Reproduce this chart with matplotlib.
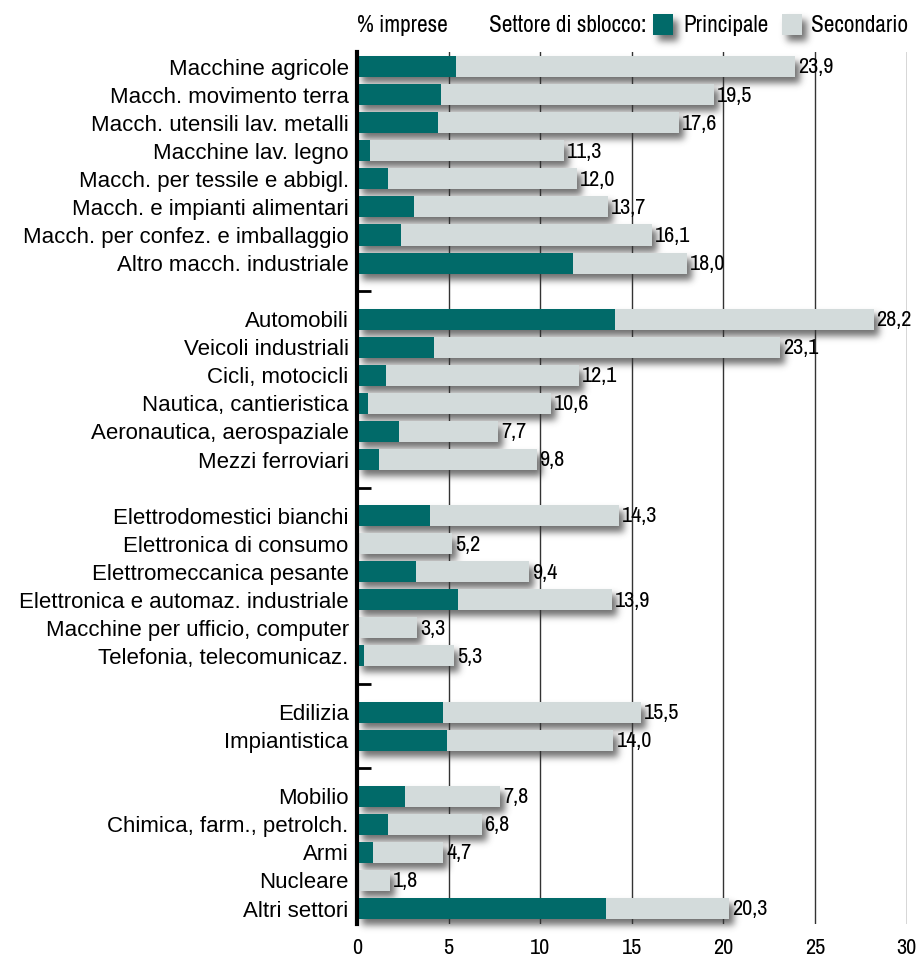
import numpy as np
import matplotlib.pyplot as plt
from matplotlib import font_manager as fm
from matplotlib.patches import Rectangle

# settori raggruppati, dall'alto verso il basso
g_macchine = ["Macchine agricole", "Macch. movimento terra", "Macch. utensili lav. metalli",
              "Macchine lav. legno", "Macch. per tessile e abbigl.", "Macch. e impianti alimentari",
              "Macch. per confez. e imballaggio", "Altro macch. industriale"]
p_macchine = [5.4, 4.6, 4.4, 0.7, 1.7, 3.1, 2.4, 11.8]
t_macchine = [23.9, 19.5, 17.6, 11.3, 12.0, 13.7, 16.1, 18.0]

g_trasporti = ["Automobili", "Veicoli industriali", "Cicli, motocicli", "Nautica, cantieristica",
               "Aeronautica, aerospaziale", "Mezzi ferroviari"]
p_trasporti = [14.1, 4.2, 1.6, 0.6, 2.3, 1.2]
t_trasporti = [28.2, 23.1, 12.1, 10.6, 7.7, 9.8]

g_elettro = ["Elettrodomestici bianchi", "Elettronica di consumo", "Elettromeccanica pesante",
             "Elettronica e automaz. industriale", "Macchine per ufficio, computer",
             "Telefonia, telecomunicaz."]
p_elettro = [4.0, 0.0, 3.2, 5.5, 0.0, 0.4]
t_elettro = [14.3, 5.2, 9.4, 13.9, 3.3, 5.3]

g_edil = ["Edilizia", "Impiantistica"]
p_edil = [4.7, 4.9]
t_edil = [15.5, 14.0]

g_altri = ["Mobilio", "Chimica, farm., petrolch.", "Armi", "Nucleare", "Altri settori"]
p_altri = [2.6, 1.7, 0.9, 0.0, 13.6]
t_altri = [7.8, 6.8, 4.7, 1.8, 20.3]

groups = [(g_macchine, p_macchine, t_macchine), (g_trasporti, p_trasporti, t_trasporti),
          (g_elettro, p_elettro, t_elettro), (g_edil, p_edil, t_edil),
          (g_altri, p_altri, t_altri)]

TEAL = "#016a69"
LIGHT = "#d3dbdb"
TXT = "Liberation Sans"

# pick a narrow face for numbers and legend if one is installed
narrow = None
for f in fm.fontManager.ttflist:
    if ("Narrow" in f.name or "Condensed" in f.name) and "Bold" not in f.style:
        narrow = f.name
        break
if narrow is None:
    NUM = dict(family=TXT)
    NSIZE, LSIZE = 13.5, 14
else:
    NUM = dict(family=narrow)
    NSIZE, LSIZE = 16, 16.7

labels, ypos, princ, tot, seps = [], [], [], [], []
k = 0
for gi, (names, p, t) in enumerate(groups):
    if gi > 0:
        seps.append(k)
        k += 1
    for n, a, b in zip(names, p, t):
        labels.append(n)
        ypos.append(k)
        princ.append(a)
        tot.append(b)
        k += 1
ypos = np.array(ypos)
princ = np.array(princ)
tot = np.array(tot)
sec = tot - princ

W, Hf = 917, 961
fig = plt.figure(figsize=(W / 100, Hf / 100), dpi=100)
ax = fig.add_axes([357 / W, 1 - 924 / Hf, 549.5 / W, (924 - 52) / Hf])
ax.patch.set_visible(False)

H = 0.75
pxx = 30 / 549.5      # data units per pixel, x

ax.barh(ypos, princ, height=H, color=TEAL, zorder=3)
ax.barh(ypos, sec, left=princ, height=H, color=LIGHT, zorder=3)

for y, w in zip(ypos, tot):
    ax.text(w + 3 * pxx, y + 0.03, f"{w:.1f}".replace(".", ","), va="center", ha="left",
            fontsize=NSIZE, color="black", zorder=4, **NUM)

for x in range(5, 31, 5):
    ax.axvline(x, color="#333333", lw=1, zorder=2)

for s in seps:
    ax.plot([0, 0.75], [s, s], color="black", lw=2, solid_capstyle="butt", zorder=4)

ax.set_xlim(0, 30)
ax.set_ylim(ypos.max() + 0.55, -0.52)
ax.set_yticks(ypos)
ax.set_yticklabels(labels, fontsize=16, family=TXT)
ax.set_xticks(range(0, 31, 5))
ax.set_xticklabels([str(v) for v in range(0, 31, 5)], fontsize=NSIZE, **NUM)
ax.tick_params(axis="both", length=0)
ax.tick_params(axis="y", pad=6)
ax.tick_params(axis="x", pad=10)
for side in ["top", "right", "bottom"]:
    ax.spines[side].set_visible(False)
ax.spines["left"].set_linewidth(3)
ax.spines["left"].set_zorder(5)

# intestazione e legenda
ty = 1 - 25 / Hf
fig.text(357 / W, ty, "% imprese", fontsize=LSIZE, va="center", ha="left", **NUM)
fig.text(489 / W, ty, "Settore di sblocco:", fontsize=LSIZE, va="center", ha="left", **NUM)
fig.text(683 / W, ty, "Principale", fontsize=LSIZE, va="center", ha="left", **NUM)
fig.text(811 / W, ty, "Secondario", fontsize=LSIZE, va="center", ha="left", **NUM)
keys = [(653, TEAL), (782, LIGHT)]
for x0, c in keys:
    fig.patches.append(Rectangle((x0 / W, 1 - 35 / Hf), 20 / W, 21 / Hf,
                                 transform=fig.transFigure, facecolor=c, edgecolor="none"))

# soft drop shadow: box mask in pixel space, blurred with a gaussian kernel
mask = np.zeros((Hf, W))
ox, oy = 5, 6


def stamp(x0, x1, ytop, ybot):
    mask[max(int(round(ytop)), 0):min(int(round(ybot)), Hf),
         max(int(round(x0)), 0):min(int(round(x1)), W)] = 1.0


for y, w in zip(ypos, tot):
    (xa, ya), (xb, yb) = ax.transData.transform([(0, y - H / 2), (w, y + H / 2)])
    stamp(xa + ox, xb + ox, Hf - ya + oy, Hf - yb + oy)
for x0, c in keys:
    stamp(x0 + ox, x0 + 20 + ox, 14 + oy, 35 + oy)

sig = 3.5
r = np.arange(-12, 13)
kern = np.exp(-r ** 2 / (2 * sig ** 2))
kern /= kern.sum()
blur = np.apply_along_axis(lambda v: np.convolve(v, kern, mode="same"), 1, mask)
blur = np.apply_along_axis(lambda v: np.convolve(v, kern, mode="same"), 0, blur)

rgba = np.zeros((Hf, W, 4))
rgba[..., :3] = 0.2
rgba[..., 3] = np.clip(blur, 0, 1) * 0.7
fig.figimage(rgba, 0, 0, origin="upper", zorder=-1)

fig.savefig("out.png", dpi=100)
